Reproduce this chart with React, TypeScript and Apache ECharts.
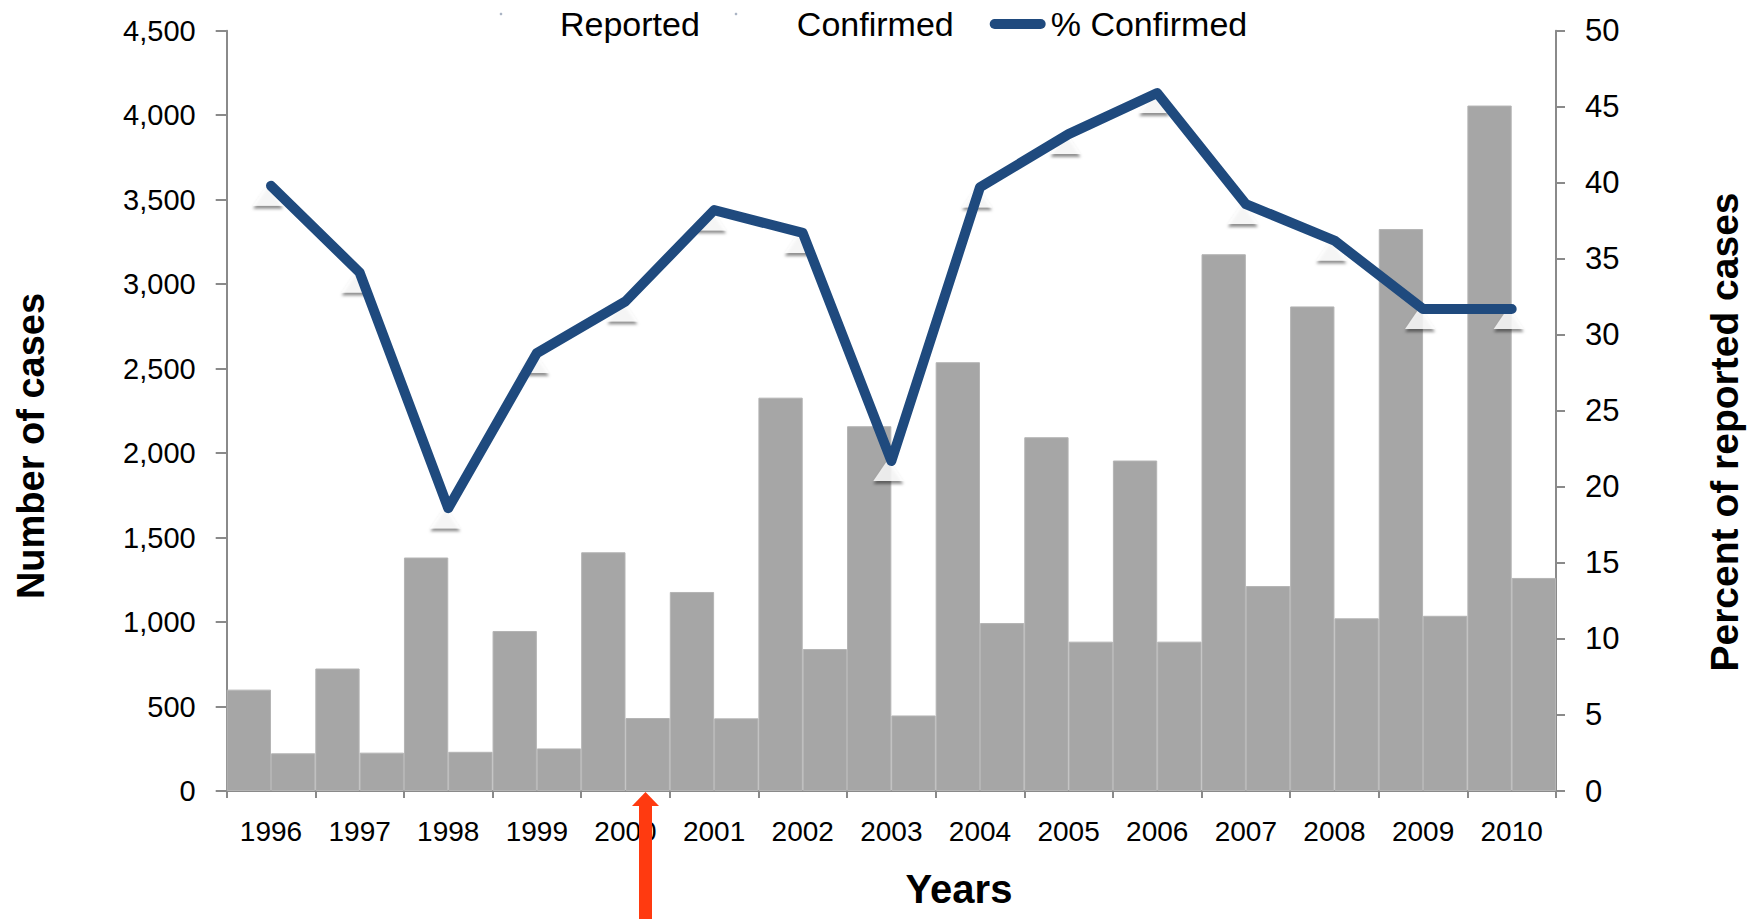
import React, { useEffect, useRef } from "react";
import * as echarts from "echarts";

const years = ["1996", "1997", "1998", "1999", "2000", "2001", "2002", "2003", "2004", "2005", "2006", "2007", "2008", "2009", "2010"];
const reported = [600, 725, 1382, 947, 1413, 1178, 2328, 2159, 2538, 2094, 1956, 3177, 2868, 3326, 4057];
const confirmed = [223, 227, 232, 252, 432, 430, 840, 447, 994, 884, 884, 1213, 1022, 1037, 1261];
const pctConfirmed = [39.8, 34.1, 18.6, 28.8, 32.2, 38.2, 36.7, 21.7, 39.7, 43.2, 45.9, 38.6, 36.2, 31.7, 31.7];
const leftTicks = { min: 0, max: 4500, interval: 500 };
const rightTicks = { min: 0, max: 50, interval: 5 };

const FONT = "'Liberation Sans', Arial, sans-serif";
const AXIS_GRAY = "#8a8a8a";
const BAR_GRAY = "#a6a6a6";
const LINE_BLUE = "#1f4a7e";

export default function App() {
  const ref = useRef<HTMLDivElement>(null);

  useEffect(() => {
    if (!ref.current) return;
    const chart = echarts.init(ref.current, null, { renderer: "svg" });
    const option: any = {
      animation: false,
      backgroundColor: "#ffffff",
      textStyle: { fontFamily: FONT },
      grid: { left: 226.7, right: 202, top: 30.7, bottom: 128, containLabel: false },
      legend: {
        left: 494,
        top: 2,
        itemWidth: 56,
        itemHeight: 11,
        itemGap: 36,
        textStyle: { fontSize: 34, color: "#000", fontFamily: FONT },
        data: [
          { name: "Reported", icon: "rect", itemStyle: { color: "rgba(0,0,0,0)", borderWidth: 0 } },
          { name: "Confirmed", icon: "rect", itemStyle: { color: "rgba(0,0,0,0)", borderWidth: 0 } },
          {
            name: "% Confirmed",
            icon: "path://M5,0 L51,0 A5,5 0 0 1 51,10 L5,10 A5,5 0 0 1 5,0 Z",
            itemStyle: { color: LINE_BLUE, borderWidth: 0 },
          },
        ],
      },
      xAxis: {
        type: "category",
        data: years,
        boundaryGap: true,
        axisLine: { show: true, lineStyle: { color: AXIS_GRAY, width: 2 } },
        axisTick: { show: true, length: 7, lineStyle: { color: AXIS_GRAY, width: 2 } },
        axisLabel: { fontSize: 28, color: "#000", margin: 26, fontFamily: FONT },
        splitLine: { show: false },
      },
      yAxis: [
        {
          type: "value",
          min: leftTicks.min,
          max: leftTicks.max,
          interval: leftTicks.interval,
          axisLine: { show: true, lineStyle: { color: AXIS_GRAY, width: 2 } },
          axisTick: { show: true, length: 11, lineStyle: { color: AXIS_GRAY, width: 2 } },
          axisLabel: {
            fontSize: 29,
            color: "#000",
            margin: 31,
            fontFamily: FONT,
            formatter: (v: number) => v.toLocaleString("en-US"),
          },
          splitLine: { show: false },
        },
        {
          type: "value",
          position: "right",
          min: rightTicks.min,
          max: rightTicks.max,
          interval: rightTicks.interval,
          axisLine: { show: true, lineStyle: { color: AXIS_GRAY, width: 2 } },
          axisTick: { show: true, length: 9, lineStyle: { color: AXIS_GRAY, width: 2 } },
          axisLabel: { fontSize: 31, color: "#000", margin: 29, fontFamily: FONT },
          splitLine: { show: false },
        },
      ],
      series: [
        {
          name: "Reported",
          type: "bar",
          data: reported,
          barGap: "0%",
          barCategoryGap: "0%",
          itemStyle: { color: BAR_GRAY, borderColor: "#b4b4b4", borderWidth: 1 },
          z: 1,
        },
        {
          name: "Confirmed",
          type: "bar",
          data: confirmed,
          barGap: "0%",
          barCategoryGap: "0%",
          itemStyle: { color: BAR_GRAY, borderColor: "#b4b4b4", borderWidth: 1 },
          z: 1,
        },
        {
          name: "markers",
          type: "scatter",
          yAxisIndex: 1,
          data: pctConfirmed,
          symbol: "triangle",
          symbolSize: [30, 22],
          symbolOffset: [-3, 9],
          itemStyle: {
            color: "#ffffff",
            shadowColor: "rgba(0,0,0,0.55)",
            shadowBlur: 3,
            shadowOffsetY: 3,
          },
          silent: true,
          z: 2,
        },
        {
          name: "% Confirmed",
          type: "line",
          yAxisIndex: 1,
          data: pctConfirmed,
          showSymbol: false,
          symbol: "none",
          lineStyle: { color: LINE_BLUE, width: 10, cap: "round", join: "round" },
          itemStyle: { color: LINE_BLUE },
          z: 3,
        },
      ],
      graphic: [
        {
          type: "text",
          x: 31,
          y: 446,
          rotation: Math.PI / 2,
          style: {
            text: "Number of cases",
            fontSize: 38,
            fontWeight: "bold",
            fontFamily: FONT,
            fill: "#000",
            textAlign: "center",
            textVerticalAlign: "middle",
          },
        },
        {
          type: "text",
          x: 1724,
          y: 432,
          rotation: Math.PI / 2,
          style: {
            text: "Percent of reported cases",
            fontSize: 39,
            fontWeight: "bold",
            fontFamily: FONT,
            fill: "#000",
            textAlign: "center",
            textVerticalAlign: "middle",
          },
        },
        {
          type: "text",
          x: 959,
          y: 889,
          style: {
            text: "Years",
            fontSize: 40,
            fontWeight: "bold",
            fontFamily: FONT,
            fill: "#000",
            textAlign: "center",
            textVerticalAlign: "middle",
          },
        },
        { type: "circle", shape: { cx: 501, cy: 14, r: 1.3 }, style: { fill: "#aab4c4" } },
        { type: "circle", shape: { cx: 736, cy: 14, r: 1.3 }, style: { fill: "#aab4c4" } },
        { type: "rect", shape: { x: 639, y: 805, width: 13, height: 114 }, style: { fill: "#ff3a10" }, z: 100 },
        {
          type: "polygon",
          shape: { points: [[645.5, 792], [632, 806], [659, 806]] },
          style: { fill: "#ff3a10" },
          z: 100,
        },
      ],
    };
    chart.setOption(option);
    return () => chart.dispose();
  }, []);

  return (
    <div
      ref={ref}
      style={{ position: "absolute", left: 0, top: 0, width: 1758, height: 919, background: "#fff" }}
    />
  );
}
